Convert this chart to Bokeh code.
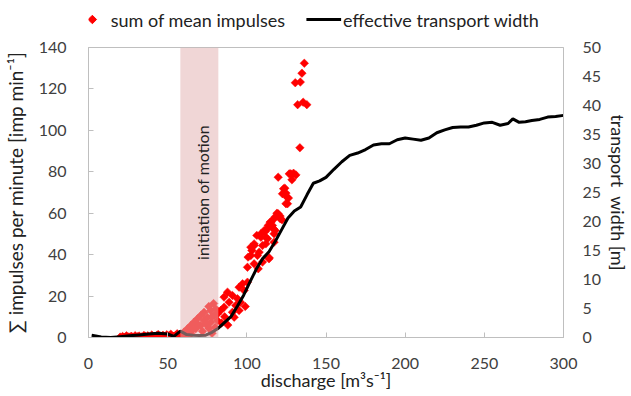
import numpy as np
from bokeh.plotting import figure
from bokeh.layouts import column
from bokeh.models import Range1d, LinearAxis, SingleIntervalTicker
from bokeh.embed import file_html
from bokeh.resources import INLINE
from bokeh.core.properties import value

FONT = "Lato"

# sum of mean impulses (discharge [m3/s], impulses per minute)
discharge_pts = [20, 21.5, 22, 23, 24, 25.5, 26, 27, 28, 29.5, 30, 31, 32, 33.5, 34, 35, 36, 37.5, 38, 39,
                 40, 41.5, 42, 43, 44, 45.5, 46, 47, 48, 49.5, 50, 51, 52, 53.5, 54, 55, 56, 57.5,
                 58.5, 59.3, 60.3, 61, 62.5, 63, 64.6, 64.6, 65.5, 66.6, 67.7, 68.8, 69.5, 70.9, 70.9, 72,
                 73, 73, 74, 75.1, 76, 76, 77.2, 77.2, 78, 78, 79.3, 79, 80.4, 81.4, 81.4, 80,
                 83.5, 84, 85.6, 85.6, 86, 87.8, 88, 88.8, 90.9, 90.9, 92, 93, 94.1, 95.1, 95.1, 96,
                 97.3, 98.3, 99, 100.4,
                 100.4, 100.8, 102.5, 102.5, 103.2, 104.6, 104.6, 104.6, 106.3, 106.7, 107.2, 107.8, 108.9,
                 108.9, 109.9, 109.9, 111, 111.6, 112, 112, 113.1, 113.1, 113.5, 114, 114.1, 114.7, 115.2,
                 116.2, 116.8, 117.2, 117.2, 117.2, 117.7, 117.9, 119, 119.8, 119.8, 121, 121.1, 122.2,
                 122.5, 123.2, 124, 124.7, 124.7, 125.3, 125.7, 126.3, 126.8, 127.8, 128.5, 129.5, 131,
                 133.5, 130.6, 133.8, 132.1, 135.6, 137.9, 134.8, 136.3]
impulses = [0.2, 0.5, 0.0, 0.1, 0.8, 0.3, 0.0, 0.6, 0.2, 0.9, 0.0, 0.4, 0.7, 0.3, 0.0, 1.0, 0.5, 0.8, 0.0, 0.2,
            1.2, 0.6, 0.1, 0.9, 1.4, 0.7, 0.2, 1.1, 0.5, 1.3, 0.1, 0.8, 1.6, 0.6, 0.2, 1.0, 1.8, 0.9,
            0.5, 1.0, 2.6, 1.2, 4.2, 2.0, 1.8, 5.8, 3.5, 7.4, 4.2, 9.0, 6.0, 5.8, 10.6, 3.0,
            8.2, 12.2, 6.5, 9.8, 4.5, 15.0, 7.4, 13.0, 10.0, 2.0, 10.6, 16.4, 13.8, 8.2, 11.4, 5.0,
            13.0, 7.0, 14.6, 19.5, 10.0, 21.9, 6.0, 17.0, 20.3, 12.2, 9.8, 15.5, 18.7, 13.0, 24.3, 17.0,
            25.9, 22.7, 15.0, 26.7,
            33.9, 38.8, 39.6, 43.6, 42.0, 35.6, 44.4, 45.2, 49.3, 39.6, 33.2, 41.2, 50.1,
            48.4, 44.4, 36.4, 51.7, 51.2, 45.2, 48.4, 52.5, 47.7, 54.1, 38.0, 38.5, 55.7, 55.7,
            54.1, 52.5, 50.1, 46.0, 57.3, 58.1, 51.7, 60.0, 59.7, 77.4, 58.6, 57.3, 56.8,
            69.4, 71.8, 72.1, 69.7, 64.6, 67.8, 64.6, 67.3, 79.0, 79.0, 76.1, 79.3, 78.5,
            91.6, 123.0, 123.3, 112.4, 113.6, 112.4, 127.6, 132.4]

# effective transport width (discharge [m3/s], width [m])
width_q = [2, 8, 14, 20, 26, 32, 38, 44, 50, 54, 58, 62, 66, 70, 74, 78, 82, 86, 90, 94, 98, 102, 106, 110,
           114, 118, 122, 126, 130, 134, 138, 142, 146, 150, 155, 160, 165, 170, 175, 180, 185, 190, 195,
           200, 205, 210, 215, 220, 225, 230, 235, 240, 245, 250, 255, 260, 265, 268, 272, 276, 280, 285,
           290, 295, 300]
width_m = [0.4, 0.1, 0.0, 0.15, 0.3, 0.45, 0.6, 0.75, 0.6, 0.2, 1.1, 0.5, 0.4, 0.35, 0.4, 0.9, 1.6, 2.6,
           3.6, 5.4, 7.3, 9.6, 11.8, 13.6, 14.8, 16.6, 18.6, 20.6, 21.8, 22.5, 24.6, 26.6, 27.0, 27.6,
           29.0, 30.3, 31.4, 31.8, 32.4, 33.2, 33.4, 33.4, 34.1, 34.4, 34.2, 34.0, 34.4, 35.3, 35.8,
           36.2, 36.3, 36.3, 36.6, 37.0, 37.1, 36.6, 36.9, 37.7, 37.1, 37.2, 37.4, 37.6, 38.0, 38.1, 38.3]

motion_left = [58]
motion_right = [82]
motion_label = ["initiation of motion"]
legend_labels = ["sum of mean impulses", "effective transport width"]

RED = "#ff0000"

# ---------- legend strip (its frame is aligned with the chart frame; x in page pixels) ----------
LH = 37
lg = figure(width=615, height=LH, x_range=Range1d(88, 563), y_range=Range1d(0, LH),
            output_backend="svg", toolbar_location=None, x_axis_type=None, y_axis_type=None,
            min_border=0)
lg.outline_line_color = None
lg.xgrid.grid_line_color = None
lg.ygrid.grid_line_color = None
ly = LH - 19
lg.scatter([92], [ly], marker="square", angle=np.pi / 4, size=6, fill_color=RED, line_color=RED)
lg.line([314, 350], [ly, ly], line_width=3, line_color="black")
lg.text(x=[111, 352], y=[ly, ly], text=legend_labels, text_baseline="middle", text_align="left",
        text_font=value(FONT), text_font_size="18px", text_color="#222222")

# ---------- main chart ----------
p = figure(frame_width=475, frame_height=290, x_range=Range1d(0, 300), y_range=Range1d(0, 140),
           output_backend="svg", toolbar_location=None,
           min_border_left=80, min_border_right=0, min_border_top=10, min_border_bottom=0)
p.extra_y_ranges = {"w": Range1d(0, 50)}
p.xgrid.grid_line_color = None
p.ygrid.grid_line_color = None
p.outline_line_color = "#bfbfbf"
p.background_fill_color = "white"

p.scatter(discharge_pts, impulses, marker="square", angle=np.pi / 4, size=6,
          fill_color=RED, line_color=RED, line_width=0.5)
p.line(width_q, width_m, y_range_name="w", line_width=3, line_color="black")
p.quad(left=motion_left, right=motion_right, bottom=[0], top=[140],
       fill_color="#e3b0b0", fill_alpha=0.52, line_color=None)
p.text(x=[72], y=[70], text=motion_label, angle=np.pi / 2, text_align="center",
       text_baseline="middle", text_font=value(FONT), text_font_size="16px", text_color="#222222")

raxis = LinearAxis(y_range_name="w")
p.add_layout(raxis, "right")

p.xaxis.ticker = SingleIntervalTicker(interval=50)
p.yaxis[0].ticker = SingleIntervalTicker(interval=20)
raxis.ticker = SingleIntervalTicker(interval=5)

p.xaxis.axis_label = "discharge [m³s⁻¹]"
p.yaxis[0].axis_label = "∑ impulses per minute [imp min⁻¹]"
raxis.axis_label = "transport \u00a0width [m]"

for ax in [p.xaxis[0], p.yaxis[0], raxis]:
    ax.axis_line_color = "#bfbfbf"
    ax.major_tick_line_color = "#bfbfbf"
    ax.major_tick_in = 5
    ax.major_tick_out = 0
    ax.minor_tick_line_color = None
    ax.major_label_text_font = FONT
    ax.major_label_text_font_size = "16px"
    ax.major_label_text_color = "#404040"
    ax.axis_label_text_font = FONT
    ax.axis_label_text_font_size = "18px"
    ax.axis_label_text_font_style = "normal"
    ax.axis_label_text_color = "#222222"
raxis.major_tick_in = 0
p.yaxis[0].axis_label_text_font_size = "19px"
p.xaxis.major_label_standoff = 16
p.xaxis.axis_label_standoff = -3
p.yaxis[0].major_label_standoff = 18
p.yaxis[0].axis_label_standoff = 9
raxis.major_label_standoff = 15
raxis.axis_label_standoff = 3

layout = column(lg, p, spacing=0)
open("out.html", "w").write(file_html(layout, INLINE))
